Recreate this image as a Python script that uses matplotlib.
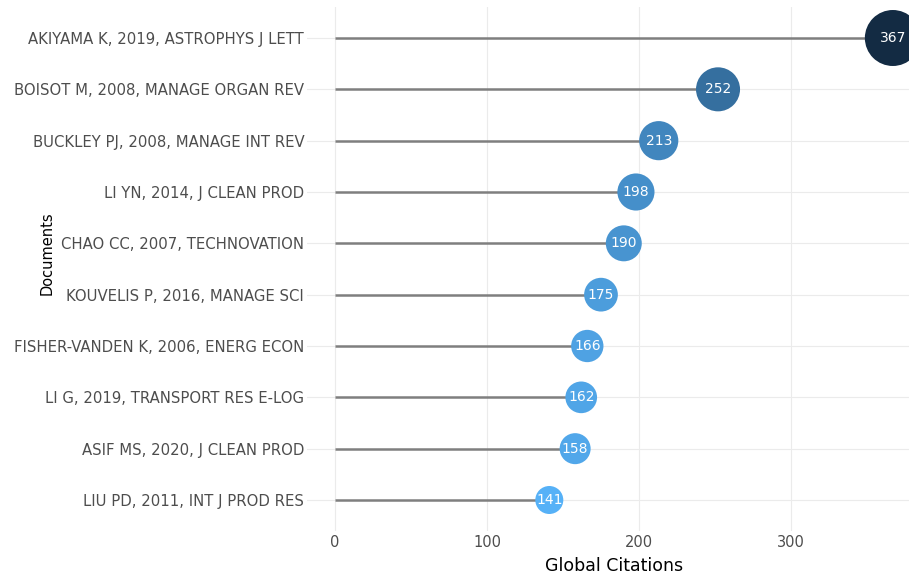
import matplotlib
matplotlib.use("Agg")
import matplotlib.pyplot as plt
import numpy as np
from matplotlib.colors import LinearSegmentedColormap, Normalize

documents = [
    "LIU PD, 2011, INT J PROD RES",
    "ASIF MS, 2020, J CLEAN PROD",
    "LI G, 2019, TRANSPORT RES E-LOG",
    "FISHER-VANDEN K, 2006, ENERG ECON",
    "KOUVELIS P, 2016, MANAGE SCI",
    "CHAO CC, 2007, TECHNOVATION",
    "LI YN, 2014, J CLEAN PROD",
    "BUCKLEY PJ, 2008, MANAGE INT REV",
    "BOISOT M, 2008, MANAGE ORGAN REV",
    "AKIYAMA K, 2019, ASTROPHYS J LETT",
]
citations = [141, 158, 162, 166, 175, 190, 198, 213, 252, 367]
x_ticks = [0, 100, 200, 300]

W, H = 909, 576
fig = plt.figure(figsize=(W / 100, H / 100), dpi=100)
fig.patch.set_facecolor("white")

ax_left_px, ax_right_px = 307, 909
ax_top_px, ax_bot_px = 7.2, 530.8
ax = fig.add_axes([ax_left_px / W, 1 - ax_bot_px / H,
                   (ax_right_px - ax_left_px) / W, (ax_bot_px - ax_top_px) / H])
ax.set_facecolor("white")

y = np.arange(len(documents))
vals = np.array(citations, dtype=float)

cmap = LinearSegmentedColormap.from_list("rev", ["#56B1F7", "#132B43"])
norm = Normalize(vmin=vals.min(), vmax=vals.max())
colors = cmap(norm(vals))

# stems
ax.hlines(y, 0, vals, color="#7f7f7f", linewidth=1.8, zorder=2)

# bubble sizes: area linear in value
d_px = np.sqrt(784 + (vals - vals.min()) * 10.4)
s = (d_px * 0.72) ** 2
ax.scatter(vals, y, s=s, c=colors, zorder=3, linewidths=0, clip_on=False)

for v, yy in zip(vals, y):
    ax.text(v, yy, f"{int(v)}", color="white", ha="center", va="center",
            fontsize=10, zorder=4, clip_on=False)

ax.set_xlim(-18.4, (909 - 335) / 1.52)
ax.set_ylim(-0.6, len(documents) - 0.4)
ax.set_xticks(x_ticks)
ax.set_xticklabels([str(t) for t in x_ticks])
ax.set_yticks(y)
ax.set_yticklabels(documents)

ax.grid(True, color="#ebebeb", linewidth=0.8, zorder=0)
ax.set_axisbelow(True)
for sp in ax.spines.values():
    sp.set_visible(False)
ax.tick_params(axis="both", length=0, labelcolor="#4d4d4d")
ax.tick_params(axis="y", labelsize=10.7, pad=2)
ax.tick_params(axis="x", labelsize=10.5, pad=3)

fig.text(614 / W, 1 - 566 / H, "Global Citations", ha="center", va="center",
         fontsize=12.5, color="black")
fig.text(47 / W, 1 - 253 / H, "Documents", ha="center", va="center",
         rotation=90, fontsize=10.5, color="black")

fig.savefig("out.png", dpi=100)
